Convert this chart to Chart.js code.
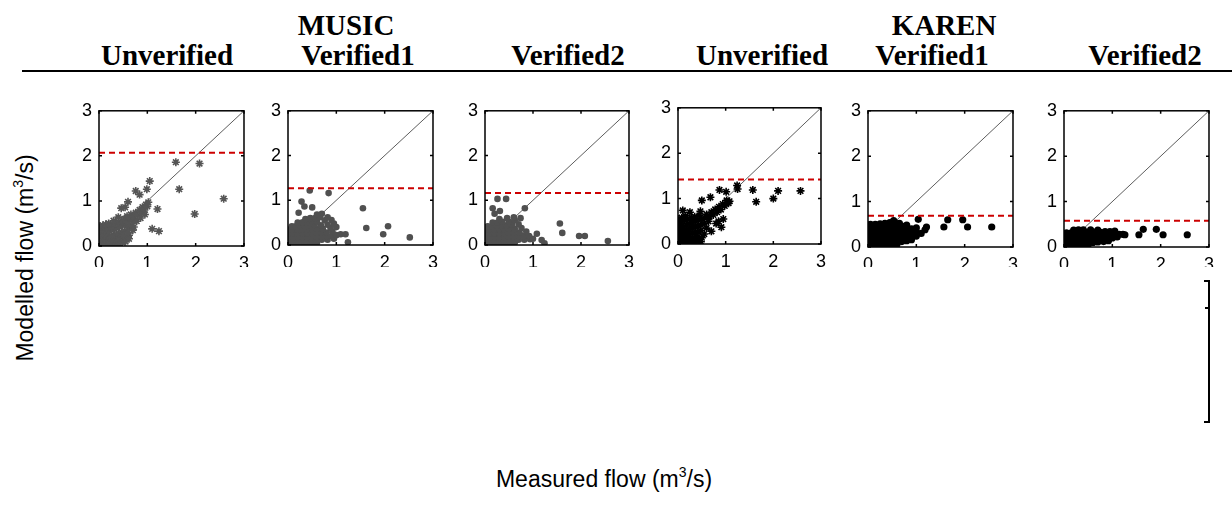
<!DOCTYPE html>
<html>
<head>
<meta charset="utf-8">
<script src="https://cdn.jsdelivr.net/npm/chart.js@4.4.1/dist/chart.umd.min.js"></script>
<style>
  html, body { margin: 0; padding: 0; background: #fff; }
  body { width: 1232px; height: 519px; position: relative; overflow: hidden; }
  .title { position: absolute; font-family: "Liberation Serif", "Times New Roman", serif; font-weight: bold;
           font-size: 29px; line-height: 29px; white-space: nowrap; transform: translateX(-50%); color: #000; }
  .rule { position: absolute; left: 22px; top: 70px; width: 1210px; height: 2px; background: #000; }
  .panel { position: absolute; overflow: hidden; }
  .panel canvas { position: absolute; left: 0; top: 0; }
  .axlabel { position: absolute; font-family: "Liberation Sans", Arial, sans-serif; font-size: 23px; line-height: 23px;
             white-space: nowrap; color: #000; }
  .axlabel sup { font-size: 14px; vertical-align: 0; position: relative; top: -10px; }
  .stub { position: absolute; background: #000; }
</style>
</head>
<body>
<div id="root"></div>
<script>
// ---------- data ----------
const groupNames = ["MUSIC", "KAREN"];
const panelTitles = ["Unverified", "Verified1", "Verified2", "Unverified", "Verified1", "Verified2"];
const tickValues = [0, 1, 2, 3];
const thresholds = [2.07, 1.27, 1.16, 1.42, 0.69, 0.58];
const xAxisTitle = "Measured flow (m";
const yAxisTitle = "Modelled flow (m";

const musicUnverified = [
  [0.02,0.02],[0.06,0.03],[0.1,0.02],[0.15,0.04],[0.2,0.03],[0.25,0.05],[0.3,0.04],[0.36,0.06],[0.42,0.05],[0.48,0.08],
  [0.02,0.09],[0.06,0.11],[0.11,0.09],[0.16,0.12],[0.21,0.1],[0.26,0.13],[0.31,0.12],[0.36,0.15],[0.41,0.17],[0.46,0.2],[0.52,0.14],[0.58,0.19],
  [0.02,0.17],[0.06,0.2],[0.11,0.18],[0.16,0.21],[0.21,0.19],[0.26,0.23],[0.31,0.22],[0.36,0.26],[0.41,0.28],[0.47,0.3],[0.53,0.33],[0.62,0.24],
  [0.02,0.26],[0.06,0.29],[0.11,0.27],[0.16,0.31],[0.21,0.33],[0.26,0.35],[0.31,0.37],[0.37,0.4],[0.43,0.43],[0.49,0.46],[0.55,0.48],[0.6,0.4],[0.66,0.46],
  [0.02,0.35],[0.06,0.38],[0.11,0.36],[0.16,0.4],[0.22,0.43],[0.28,0.47],[0.34,0.5],[0.4,0.53],[0.47,0.56],[0.53,0.6],[0.6,0.55],[0.65,0.62],[0.71,0.56],
  [0.02,0.44],[0.08,0.46],[0.14,0.48],[0.2,0.5],[0.3,0.56],[0.58,0.66],[0.66,0.7],[0.72,0.66],[0.76,0.74],[0.8,0.68],[0.84,0.8],[0.88,0.74],[0.9,0.86],[0.94,0.8],[0.97,0.92],[1.0,0.88],[1.02,0.97],
  [0.55,0.1],[0.62,0.16],[0.5,0.24],[0.7,0.35],[0.78,0.55],[0.86,0.62],[0.95,0.7],
  [0.4,0.64],[0.46,0.84],[0.6,0.98],[0.54,0.86],[0.76,1.22],[0.84,1.14],[0.99,1.26],[1.05,1.44],[1.21,0.82],[1.1,0.38],[1.24,0.33],
  [1.59,1.86],[2.08,1.83],[1.66,1.26],[2.58,1.05],[1.98,0.71],[0.72,0.42],[0.6,0.3]
];
const musicVerified1 = [
  [0.02,0.03],[0.1,0.03],[0.2,0.03],[0.3,0.03],[0.4,0.03],[0.5,0.04],[0.6,0.05],
  [0.02,0.1],[0.1,0.1],[0.2,0.1],[0.3,0.1],[0.4,0.1],[0.5,0.1],[0.6,0.11],[0.7,0.12],[0.82,0.12],[0.95,0.14],
  [0.02,0.18],[0.1,0.18],[0.2,0.18],[0.3,0.18],[0.4,0.18],[0.5,0.18],[0.6,0.18],[0.7,0.19],[0.8,0.2],[0.9,0.2],[1.0,0.22],
  [0.02,0.26],[0.1,0.26],[0.2,0.26],[0.3,0.26],[0.4,0.26],[0.5,0.26],[0.6,0.27],[0.7,0.28],[0.8,0.28],[0.92,0.3],
  [0.02,0.34],[0.1,0.34],[0.2,0.34],[0.3,0.34],[0.4,0.34],[0.5,0.35],[0.6,0.36],[0.72,0.36],[0.88,0.38],[1.0,0.4],
  [0.08,0.42],[0.16,0.42],[0.25,0.43],[0.35,0.42],[0.45,0.44],[0.55,0.45],[0.68,0.44],[0.82,0.45],[0.95,0.48],
  [0.2,0.5],[0.3,0.51],[0.4,0.5],[0.5,0.52],[0.6,0.52],[0.76,0.55],[0.9,0.56],
  [0.36,0.58],[0.46,0.6],[0.56,0.6],[0.66,0.62],[0.82,0.62],
  [0.45,1.22],[0.84,1.16],[0.28,0.97],[0.34,0.86],[0.5,0.84],[0.22,0.72],[0.7,0.7],[1.55,0.82],[1.62,0.38],
  [2.07,0.42],[1.97,0.24],[2.52,0.17],[1.24,0.06],[1.09,0.24],[1.19,0.24],[0.6,0.68]
];
const musicVerified2 = [
  [0.02,0.03],[0.1,0.03],[0.2,0.03],[0.3,0.03],[0.4,0.04],[0.5,0.04],[0.62,0.05],
  [0.02,0.1],[0.1,0.1],[0.2,0.1],[0.3,0.1],[0.4,0.1],[0.5,0.1],[0.6,0.11],[0.7,0.12],[0.82,0.12],[0.94,0.13],
  [0.02,0.18],[0.1,0.18],[0.2,0.18],[0.3,0.18],[0.4,0.18],[0.5,0.18],[0.6,0.19],[0.7,0.2],[0.8,0.2],[0.92,0.2],[1.0,0.14],
  [0.02,0.26],[0.1,0.26],[0.2,0.26],[0.3,0.26],[0.4,0.27],[0.5,0.27],[0.6,0.28],[0.72,0.28],[0.86,0.3],
  [0.02,0.34],[0.1,0.34],[0.2,0.34],[0.3,0.35],[0.4,0.35],[0.5,0.36],[0.62,0.36],[0.76,0.38],
  [0.06,0.42],[0.15,0.42],[0.25,0.43],[0.35,0.44],[0.45,0.44],[0.56,0.46],[0.7,0.46],
  [0.16,0.5],[0.26,0.5],[0.36,0.52],[0.5,0.52],[0.62,0.55],[0.74,0.6],
  [0.3,0.58],[0.46,0.6],[0.6,0.62],
  [0.26,1.03],[0.44,1.03],[0.16,0.82],[0.83,0.82],[0.31,0.76],[1.56,0.48],[1.61,0.27],[1.96,0.2],[2.08,0.2],
  [2.56,0.09],[1.18,0.11],[1.24,0.04],[1.08,0.25],[0.2,0.7]
];
const karenUnverified = [
  [0.02,0.02],[0.07,0.03],[0.12,0.02],[0.18,0.04],[0.24,0.03],[0.3,0.05],[0.36,0.04],[0.42,0.06],[0.48,0.05],
  [0.02,0.1],[0.07,0.12],[0.12,0.1],[0.18,0.13],[0.24,0.11],[0.3,0.14],[0.36,0.13],[0.42,0.16],[0.5,0.14],
  [0.02,0.19],[0.07,0.21],[0.12,0.19],[0.18,0.22],[0.24,0.21],[0.3,0.24],[0.36,0.25],[0.42,0.27],[0.48,0.3],[0.55,0.22],
  [0.02,0.28],[0.07,0.3],[0.12,0.28],[0.18,0.32],[0.24,0.33],[0.3,0.35],[0.36,0.38],[0.42,0.4],[0.48,0.42],[0.55,0.45],[0.6,0.35],
  [0.02,0.37],[0.07,0.4],[0.12,0.38],[0.18,0.42],[0.24,0.45],[0.3,0.47],[0.36,0.5],[0.42,0.53],[0.5,0.55],[0.56,0.58],[0.64,0.5],
  [0.02,0.46],[0.07,0.5],[0.13,0.52],[0.2,0.55],[0.28,0.58],[0.35,0.6],[0.45,0.63],[0.6,0.65],[0.66,0.6],[0.7,0.7],[0.74,0.64],
  [0.02,0.55],[0.08,0.58],[0.15,0.62],[0.78,0.76],[0.82,0.7],[0.86,0.82],[0.9,0.76],[0.94,0.88],[0.98,0.84],[1.02,0.96],[1.06,0.9],
  [0.1,0.74],[0.25,0.7],[0.47,0.72],[0.5,0.96],[0.68,1.03],[0.87,1.19],[1.01,1.15],[1.08,0.94],[1.24,1.29],[1.25,1.21],
  [1.57,1.19],[1.64,0.93],[2.0,1.0],[2.1,1.17],[2.57,1.17],[0.91,0.37],[0.8,0.45],[0.95,0.55],[0.7,0.28],[0.85,0.5]
];
const karenVerified1 = [
  [0.02,0.03],[0.1,0.03],[0.2,0.03],[0.3,0.03],[0.4,0.04],[0.5,0.05],[0.6,0.06],
  [0.02,0.11],[0.1,0.11],[0.2,0.11],[0.3,0.11],[0.4,0.11],[0.5,0.11],[0.6,0.12],[0.7,0.12],[0.8,0.14],[0.9,0.16],
  [0.02,0.19],[0.1,0.19],[0.2,0.19],[0.3,0.19],[0.4,0.19],[0.5,0.19],[0.6,0.19],[0.7,0.2],[0.8,0.2],[0.9,0.22],[1.0,0.24],
  [0.02,0.27],[0.1,0.27],[0.2,0.27],[0.3,0.27],[0.4,0.27],[0.5,0.27],[0.6,0.27],[0.7,0.28],[0.8,0.28],[0.9,0.3],[1.0,0.32],[1.1,0.3],
  [0.02,0.35],[0.1,0.35],[0.2,0.35],[0.3,0.35],[0.4,0.35],[0.5,0.35],[0.6,0.36],[0.7,0.36],[0.8,0.38],[0.9,0.4],[1.0,0.42],
  [0.02,0.43],[0.1,0.43],[0.2,0.43],[0.3,0.44],[0.4,0.44],[0.5,0.45],[0.6,0.46],[0.7,0.46],[0.8,0.48],
  [0.05,0.5],[0.15,0.5],[0.25,0.51],[0.35,0.52],[0.45,0.54],[0.55,0.55],[0.65,0.52],
  [1.04,0.61],[1.65,0.6],[1.96,0.6],[1.21,0.44],[1.57,0.44],[2.06,0.44],[2.56,0.44],[0.53,0.58],[1.18,0.38]
];
const karenVerified2 = [
  [0.02,0.03],[0.1,0.03],[0.2,0.03],[0.3,0.03],[0.4,0.04],[0.5,0.05],
  [0.02,0.1],[0.1,0.1],[0.2,0.1],[0.3,0.1],[0.4,0.1],[0.5,0.1],[0.6,0.1],[0.7,0.11],[0.82,0.12],[0.92,0.14],
  [0.02,0.17],[0.1,0.17],[0.2,0.17],[0.3,0.17],[0.4,0.17],[0.5,0.17],[0.6,0.17],[0.7,0.18],[0.8,0.18],[0.9,0.2],[1.0,0.2],[1.1,0.22],
  [0.02,0.24],[0.1,0.24],[0.2,0.24],[0.3,0.24],[0.4,0.24],[0.5,0.24],[0.6,0.25],[0.7,0.25],[0.8,0.26],[0.9,0.26],[1.0,0.27],[1.14,0.28],[1.22,0.28],
  [0.05,0.31],[0.15,0.31],[0.25,0.31],[0.35,0.32],[0.45,0.32],[0.55,0.33],[0.65,0.33],[0.75,0.32],[0.85,0.34],[0.95,0.34],[1.05,0.35],
  [0.2,0.37],[0.3,0.38],[0.4,0.38],[0.55,0.38],[0.7,0.37],
  [1.64,0.39],[1.91,0.39],[1.55,0.27],[2.05,0.27],[2.55,0.27],[1.26,0.27]
];
const panelSeries = [musicUnverified, musicVerified1, musicVerified2, karenUnverified, karenVerified1, karenVerified2];

// ---------- layout / style (not data) ----------
const panelBoxes = [
  {l: 99,  t: 105, w: 145, h: 141, clip: 267},
  {l: 288, t: 105, w: 145, h: 140, clip: 267},
  {l: 485, t: 105, w: 144, h: 140, clip: 267},
  {l: 678, t: 102, w: 143, h: 142, clip: 275},
  {l: 868, t: 105, w: 145, h: 142, clip: 267},
  {l: 1064, t: 105, w: 145, h: 142, clip: 267}
];
const markerStyles = [
  {style: 'star',   color: '#555555', r: 4,   bw: 1.6},
  {style: 'circle', color: '#505050', r: 3.3, bw: 0},
  {style: 'circle', color: '#505050', r: 3.3, bw: 0},
  {style: 'star',   color: '#000000', r: 4,   bw: 1.6},
  {style: 'circle', color: '#000000', r: 3.6, bw: 0},
  {style: 'circle', color: '#000000', r: 3.6, bw: 0}
];
const titleCenters = [167, 358, 568, 762, 932, 1145];
const groupCenters = [346, 944];

const root = document.getElementById('root');

function addText(cls, txt, left, top) {
  const d = document.createElement('div');
  d.className = cls; d.textContent = txt;
  d.style.left = left + 'px'; d.style.top = top + 'px';
  root.appendChild(d);
  return d;
}
groupNames.forEach((g, i) => addText('title', g, groupCenters[i], 11));
panelTitles.forEach((t, i) => addText('title', t, titleCenters[i], 41));
const rule = document.createElement('div'); rule.className = 'rule'; root.appendChild(rule);

// axis titles
const xl = document.createElement('div'); xl.className = 'axlabel';
xl.innerHTML = xAxisTitle + '<sup>3</sup>/s)';
xl.style.left = '604px'; xl.style.top = '468px'; xl.style.transform = 'translateX(-50%)';
root.appendChild(xl);
const yl = document.createElement('div'); yl.className = 'axlabel';
yl.innerHTML = yAxisTitle + '<sup>3</sup>/s)';
yl.style.left = '27px'; yl.style.top = '258px'; yl.style.transform = 'translate(-50%,-50%) rotate(-90deg)';
root.appendChild(yl);

// leftover axis stub at bottom right
[[1208, 280, 2, 143], [1204, 280, 5, 2], [1205, 307, 4, 2], [1204, 421, 5, 2]].forEach(([l, t, w, h]) => {
  const s = document.createElement('div'); s.className = 'stub';
  s.style.left = l + 'px'; s.style.top = t + 'px'; s.style.width = w + 'px'; s.style.height = h + 'px';
  root.appendChild(s);
});

// plugin: boxed axes with inward ticks (MATLAB look)
const boxPlugin = {
  id: 'boxPlugin',
  afterDatasetsDraw(chart) {
    const {ctx, chartArea: a, scales} = chart;
    ctx.save();
    ctx.strokeStyle = '#000';
    ctx.lineWidth = 1.5;
    ctx.strokeRect(a.left, a.top, a.right - a.left, a.bottom - a.top);
    const L = 3;
    tickValues.forEach(v => {
      const px = scales.x.getPixelForValue(v);
      const py = scales.y.getPixelForValue(v);
      ctx.beginPath();
      ctx.moveTo(px, a.bottom); ctx.lineTo(px, a.bottom - L);
      ctx.moveTo(px, a.top); ctx.lineTo(px, a.top + L);
      ctx.moveTo(a.left, py); ctx.lineTo(a.left + L, py);
      ctx.moveTo(a.right, py); ctx.lineTo(a.right - L, py);
      ctx.stroke();
    });
    ctx.restore();
  }
};

const LEFT_AX = 40, TOP_PAD = 12, RIGHT_PAD = 12, BOTTOM_AX = 34;

panelSeries.forEach((series, i) => {
  const b = panelBoxes[i];
  const m = markerStyles[i];
  const cw = b.w + LEFT_AX + RIGHT_PAD;
  const ch = b.h + TOP_PAD + BOTTOM_AX;
  const wrap = document.createElement('div');
  wrap.className = 'panel';
  wrap.style.left = (b.l - LEFT_AX) + 'px';
  wrap.style.top = (b.t - TOP_PAD) + 'px';
  wrap.style.width = cw + 'px';
  wrap.style.height = Math.min(ch, b.clip - (b.t - TOP_PAD)) + 'px';
  const cv = document.createElement('canvas');
  cv.width = cw; cv.height = ch;
  cv.style.width = cw + 'px'; cv.style.height = ch + 'px';
  wrap.appendChild(cv);
  root.appendChild(wrap);

  new Chart(cv, {
    type: 'scatter',
    data: {
      datasets: [
        {
          data: [{x: tickValues[0], y: thresholds[i]}, {x: tickValues[tickValues.length - 1], y: thresholds[i]}],
          showLine: true, borderColor: '#cc0000', borderWidth: 2, borderDash: [6, 4],
          pointRadius: 0, fill: false
        },
        {
          data: series.map(([x, y]) => ({x, y})),
          pointStyle: m.style, pointRadius: m.r, pointBorderWidth: m.bw,
          backgroundColor: m.color, borderColor: m.color, showLine: false
        },
        {
          data: [{x: tickValues[0], y: tickValues[0]}, {x: tickValues[tickValues.length - 1], y: tickValues[tickValues.length - 1]}],
          showLine: true, borderColor: '#333', borderWidth: 0.8, pointRadius: 0, fill: false
        }
      ]
    },
    options: {
      responsive: false,
      maintainAspectRatio: false,
      animation: false,
      devicePixelRatio: 1,
      layout: {padding: {top: TOP_PAD, right: RIGHT_PAD, left: 0, bottom: 0}},
      plugins: {legend: {display: false}, tooltip: {enabled: false}},
      scales: {
        x: {
          type: 'linear', min: 0, max: 3,
          afterBuildTicks: s => { s.ticks = tickValues.map(v => ({value: v})); },
          afterFit: s => { s.height = BOTTOM_AX; },
          grid: {display: false, drawTicks: false}, border: {display: false},
          ticks: {color: '#000', font: {family: 'Liberation Sans', size: 18}, padding: 7, maxRotation: 0, autoSkip: false}
        },
        y: {
          type: 'linear', min: 0, max: 3,
          afterBuildTicks: s => { s.ticks = tickValues.map(v => ({value: v})); },
          afterFit: s => { s.width = LEFT_AX; },
          grid: {display: false, drawTicks: false}, border: {display: false},
          ticks: {color: '#000', font: {family: 'Liberation Sans', size: 18}, padding: 7, autoSkip: false}
        }
      }
    },
    plugins: [boxPlugin]
  });
});
</script>
</body>
</html>
